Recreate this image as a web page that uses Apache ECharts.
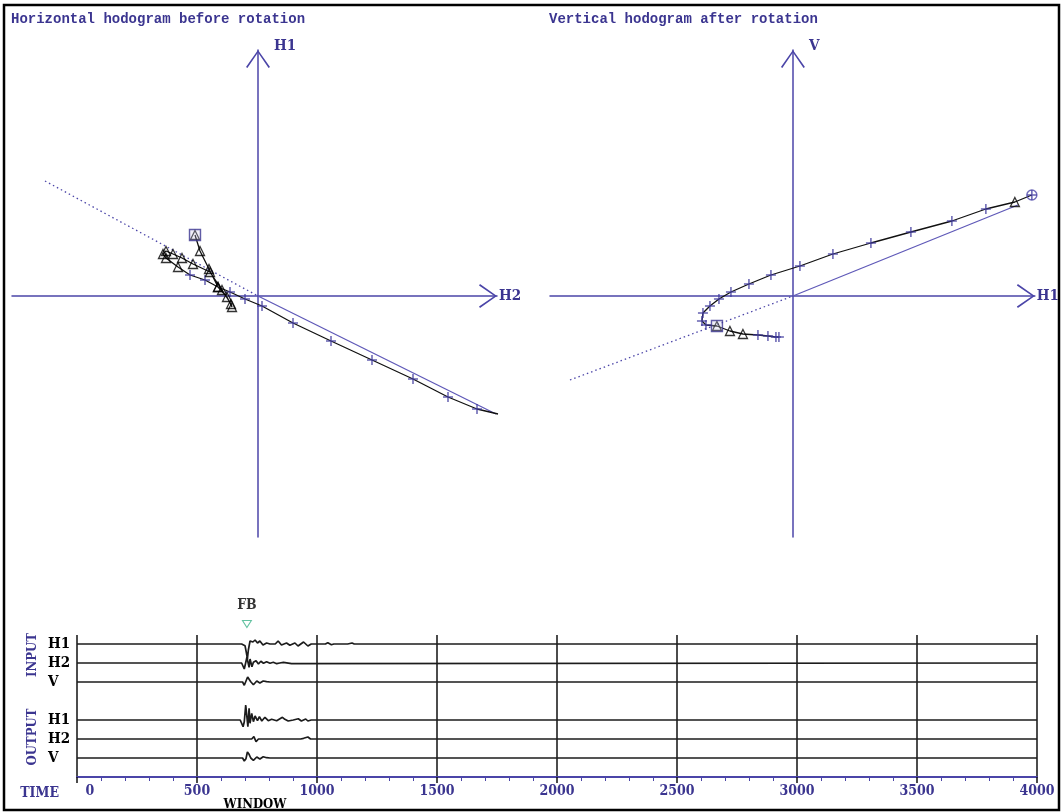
<!DOCTYPE html>
<html>
<head>
<meta charset="utf-8">
<script src="https://cdn.jsdelivr.net/npm/echarts@6/dist/echarts.min.js"></script>
<style>
  html, body { margin: 0; padding: 0; background: #fff; }
  #chart { width: 1062px; height: 812px; }
</style>
</head>
<body>
<div id="chart"></div>
<script>
// ---------------------------------------------------------------
// Hodogram samples, horizontal plane before rotation: [H2, H1, mark]
// mark: s = first sample, t = sample inside window, + = later sample, e = last sample
// ---------------------------------------------------------------
const horizSamples = [
  [-63, 61, 's'], [-58, 45, 't'], [-49, 27, 't'], [-40, 9, 't'], [-31, -1, 't'],
  [-26, -11, 't'], [-27, -8, 't'], [-36, 6, 't'], [-48, 24, 't'], [-65, 32, 't'],
  [-76, 38, 't'], [-85, 42, 't'], [-92, 45, 't'], [-95, 42, 't'], [-92, 38, 't'],
  [-80, 29, 't'], [-68, 21, '+'], [-53, 16, '+'], [-40, 9, 't'], [-28, 4, '+'],
  [-13, -3, '+'], [4, -10, '+'], [35, -27, '+'], [73, -45, '+'], [114, -64, '+'],
  [155, -83, '+'], [190, -101, '+'], [219, -113, '+'], [240, -118, 'e']
];
// Polarization direction in the horizontal plane (back / front of origin)
const horizPolarBack = [[-213, 115], [0, 0]];
const horizPolarFront = [[0, 0], [238, -118]];

// Hodogram samples, vertical plane after rotation: [H1, V, mark]
const vertSamples = [
  [-14, -41, '+'], [-17, -41, '+'], [-25, -40, '+'], [-35, -39, '+'], [-50, -38, 't'],
  [-63, -35, 't'], [-76, -30, 's'], [-87, -29, '+'], [-91, -25, '+'], [-90, -17, '+'],
  [-83, -10, '+'], [-74, -3, '+'], [-62, 4, '+'], [-44, 12, '+'], [-22, 21, '+'],
  [7, 30, '+'], [40, 42, '+'], [78, 53, '+'], [118, 64, '+'], [159, 75, '+'],
  [193, 87, '+'], [222, 94, 't'], [239, 101, 'e']
];
const vertPolarBack = [[-223, -84], [0, 0]];
const vertPolarFront = [[0, 0], [225, 91]];

// ---------------------------------------------------------------
// Three-component traces: [time (ms), amplitude]
// ---------------------------------------------------------------
const traceInH1 = [
  [0, 0], [686, 0], [690, 1.7], [700, -1.7], [706, -9], [710, -15], [714, -6], [721, 3],
  [733, 2], [742, 4], [752, 1], [762, 3], [775, -1], [790, 1], [804, 0], [826, 0],
  [838, 3], [852, -1], [873, 1], [887, -1.3], [908, 1], [921, -2], [944, 2], [952, 3],
  [962, -2], [976, 0], [1035, 0], [1045, 1.3], [1060, -0.7], [1070, 0], [1128, 0],
  [1135, -0.7], [1146, 1], [1155, 0], [4000, 0]
];
const traceInH2 = [
  [0, 0], [686, 0], [690, 0.7], [697, -6], [702, -7.7], [708, 5.7], [713, 7.3], [717, -4.3],
  [721, 4], [729, -3.7], [735, 0.7], [746, 2.3], [756, -1], [766, 1.7], [777, -0.3],
  [790, 1.3], [804, -0.3], [818, 0.7], [832, -0.7], [845, 0], [860, 0.7], [894, -0.7],
  [901, 0], [4000, 0]
];
const traceInV = [
  [0, 0], [690, 0], [697, -3.3], [704, -1.7], [711, 5], [717, 3.7], [724, 0.3], [735, -2.7],
  [749, 1], [762, -1], [776, 1], [790, 0.3], [804, 0], [4000, 0]
];
const traceOutH1 = [
  [0, 0], [680, 0], [685, -0.7], [692, -6.7], [697, -1.7], [703, 15], [708, 16], [712, -6.7],
  [717, 11.7], [721, -3.3], [728, 6.7], [735, -1.7], [742, 4], [752, -0.7], [760, 3.3],
  [770, -1], [783, 2.7], [797, -0.7], [811, 0.7], [832, -0.7], [856, 2.7], [866, 0.7],
  [880, -1], [901, 0], [922, 1.3], [935, -1], [953, 1], [962, -1], [976, 0], [4000, 0]
];
const traceOutH2 = [
  [0, 0], [728, 0], [737, 2.3], [746, -2.7], [756, 0], [830, 0], [838, -1.7], [848, 0],
  [880, 0], [887, -1], [898, 0], [914, 0], [921, 1.3], [932, 0], [944, 0.7], [962, 2],
  [973, 0], [1058, 0], [1065, 1.3], [1073, 0], [1140, 0], [1146, -1.3], [1155, 0], [4000, 0]
];
const traceOutV = [
  [0, 0], [690, 0], [697, -3], [704, -0.7], [710, 6], [717, 3.7], [724, 0], [735, -2.3],
  [749, 1], [762, -1], [776, 1.3], [790, 0.3], [804, 0], [4000, 0]
];

// Trace rows, top to bottom, with their row slot on the amplitude axis
const traceRows = [
  { name: 'H1', slot: 7, samples: traceInH1 },
  { name: 'H2', slot: 6, samples: traceInH2 },
  { name: 'V',  slot: 5, samples: traceInV },
  { name: 'H1', slot: 3, samples: traceOutH1 },
  { name: 'H2', slot: 2, samples: traceOutH2 },
  { name: 'V',  slot: 1, samples: traceOutV }
];
const firstBreakTime = 708;   // FB pick, ms
const timeTicks = [0, 500, 1000, 1500, 2000, 2500, 3000, 3500, 4000];

// ---------------------------------------------------------------
// Styling
// ---------------------------------------------------------------
const AXIS_BLUE = '#4b45a8';
const TEXT_BLUE = '#3b3590';
const MONO = "'Liberation Mono', 'DejaVu Sans Mono', monospace";
const SERIF = "'DejaVu Serif Condensed', 'Liberation Serif', serif";
const ROW = 19;            // amplitude units between trace rows
const TRACE_TOP = 142;     // top of the trace panel in amplitude units

const CHEVRON = 'path://M0,17 L12,0 L24,17 L22.6,18 L12,2.6 L1.4,18 Z';
const PLUS = 'path://M5,0 L5,10 M0,5 L10,5';

function hodogramAxis(gridIndex, min, max, name, isX) {
  const ax = {
    gridIndex, type: 'value', min, max,
    axisLine: {
      show: true, onZero: true,
      symbol: ['none', CHEVRON], symbolSize: [24, 18], symbolOffset: [0, -9],
      lineStyle: { color: AXIS_BLUE, width: 1.5 }
    },
    axisTick: { show: false }, axisLabel: { show: false }, splitLine: { show: false },
    name, nameLocation: 'end',
    nameTextStyle: { color: TEXT_BLUE, fontFamily: SERIF, fontWeight: 'bold', fontSize: 15 }
  };
  if (isX) {
    ax.nameGap = 2;
    ax.nameTextStyle.padding = [12, 0, 0, 0];
  } else {
    ax.nameGap = -4;
    ax.nameTextStyle.align = 'left';
    ax.nameTextStyle.padding = [0, 0, 0, 16];
  }
  return ax;
}

function hodogramSeries(samples, polarBack, polarFront, axisIndex) {
  const pick = kinds => samples.filter(s => kinds.includes(s[2])).map(s => [s[0], s[1]]);
  const base = { xAxisIndex: axisIndex, yAxisIndex: axisIndex, silent: true };
  return [
    Object.assign({}, base, {
      type: 'line', data: polarBack, showSymbol: false, z: 2,
      lineStyle: { color: AXIS_BLUE, width: 1.3, type: [1.5, 3] }
    }),
    Object.assign({}, base, {
      type: 'line', data: polarFront, showSymbol: false, z: 2,
      lineStyle: { color: '#5f59b8', width: 1.3 }
    }),
    Object.assign({}, base, {
      type: 'line', data: samples.map(s => [s[0], s[1]]), showSymbol: false, z: 3,
      lineStyle: { color: '#111', width: 1.3 }
    }),
    Object.assign({}, base, {
      type: 'scatter', data: pick(['+', 'e']), symbol: PLUS, symbolSize: 10, z: 4,
      itemStyle: { color: 'transparent', borderColor: '#3f3a9e', borderWidth: 1.5 }
    }),
    Object.assign({}, base, {
      type: 'scatter', data: pick(['t', 's']), symbol: 'triangle', symbolSize: [9, 9], z: 5,
      itemStyle: { color: 'rgba(255,255,255,0)', borderColor: '#000', borderWidth: 1.3 }
    }),
    Object.assign({}, base, {
      type: 'scatter', data: pick(['s']), symbol: 'rect', symbolSize: 11, z: 5,
      itemStyle: { color: 'rgba(200,200,230,0.35)', borderColor: TEXT_BLUE, borderWidth: 1.4 }
    }),
    Object.assign({}, base, {
      type: 'scatter', data: pick(['e']), symbol: 'circle', symbolSize: 10, z: 5,
      itemStyle: { color: 'transparent', borderColor: AXIS_BLUE, borderWidth: 1.4 }
    })
  ];
}

const rowNameBySlot = {};
traceRows.forEach(r => { rowNameBySlot[r.slot] = r.name; });

const traceSeries = traceRows.map(r => ({
  type: 'line', xAxisIndex: 2, yAxisIndex: 2, silent: true,
  data: r.samples.map(s => [s[0], r.slot * ROW + s[1]]),
  showSymbol: false, z: 3,
  lineStyle: { color: '#1c1c1c', width: 1.7 }
}));

const fbSeries = {
  type: 'scatter', xAxisIndex: 2, yAxisIndex: 2, silent: true, clip: false,
  data: [[firstBreakTime, TRACE_TOP + 11]],
  symbol: 'triangle', symbolRotate: 180, symbolSize: [9, 7],
  itemStyle: { color: '#fff', borderColor: '#3cb38a', borderWidth: 1 },
  label: {
    show: true, position: 'top', distance: 8, formatter: 'FB',
    color: '#000', fontFamily: SERIF, fontWeight: 'bold', fontSize: 14
  }
};

const titleStyle = { color: TEXT_BLUE, fontFamily: MONO, fontWeight: 'bold', fontSize: 14 };

const option = {
  animation: false,
  backgroundColor: '#fff',
  title: [
    { text: 'Horizontal hodogram before rotation', left: 11, top: 12, padding: 0, textStyle: titleStyle },
    { text: 'Vertical hodogram after rotation', left: 549, top: 12, padding: 0, textStyle: titleStyle }
  ],
  grid: [
    { left: 12, top: 50, width: 485, height: 487 },
    { left: 550, top: 50, width: 485, height: 487 },
    { left: 77, top: 635, width: 960, height: 142 }
  ],
  xAxis: [
    hodogramAxis(0, -246, 239, 'H2', true),
    hodogramAxis(1, -243, 242, 'H1', true),
    {
      gridIndex: 2, type: 'value', min: 0, max: 4000, interval: 500,
      axisLine: { show: true, onZero: false, lineStyle: { color: AXIS_BLUE, width: 2 } },
      axisTick: { show: true, length: 6, lineStyle: { color: '#111', width: 1.5 } },
      minorTick: { show: true, splitNumber: 5, length: 4, lineStyle: { color: AXIS_BLUE, width: 1 } },
      splitLine: { show: true, lineStyle: { color: '#111', width: 1.5 } },
      axisLabel: {
        margin: 7, color: TEXT_BLUE, fontFamily: SERIF, fontWeight: 'bold', fontSize: 14,
        formatter: v => (timeTicks.includes(v) ? (v === 0 ? '{z|0}' : String(v)) : ''),
        rich: { z: { padding: [0, 0, 0, 26], color: TEXT_BLUE, fontFamily: SERIF, fontWeight: 'bold', fontSize: 14 } }
      },
      name: 'TIME', nameLocation: 'start', nameGap: 18,
      nameTextStyle: {
        color: TEXT_BLUE, fontFamily: SERIF, fontWeight: 'bold', fontSize: 14,
        verticalAlign: 'top', lineHeight: 32
      }
    }
  ],
  yAxis: [
    hodogramAxis(0, -241, 246, 'H1', false),
    hodogramAxis(1, -241, 246, 'V', false),
    {
      gridIndex: 2, type: 'value', min: 0, max: TRACE_TOP, interval: ROW,
      axisLine: { show: false }, axisTick: { show: false }, splitLine: { show: false },
      axisLabel: {
        show: true, align: 'left', margin: 29, color: '#000',
        fontFamily: SERIF, fontWeight: 'bold', fontSize: 15,
        formatter: v => (v % ROW === 0 && rowNameBySlot[v / ROW]) || ''
      }
    }
  ],
  series: [
    ...hodogramSeries(horizSamples, horizPolarBack, horizPolarFront, 0),
    ...hodogramSeries(vertSamples, vertPolarBack, vertPolarFront, 1),
    ...traceSeries,
    fbSeries
  ],
  graphic: [
    {
      type: 'rect', silent: true, z: 100,
      shape: { x: 4, y: 5, width: 1055, height: 805 },
      style: { fill: 'none', stroke: '#000', lineWidth: 2.5 }
    },
    {
      type: 'text', silent: true, x: 33, y: 655, rotation: Math.PI / 2,
      style: { text: 'INPUT', fill: TEXT_BLUE, font: "bold 13px 'DejaVu Serif Condensed', 'Liberation Serif', serif", align: 'center', verticalAlign: 'middle' }
    },
    {
      type: 'text', silent: true, x: 33, y: 737, rotation: Math.PI / 2,
      style: { text: 'OUTPUT', fill: TEXT_BLUE, font: "bold 13px 'DejaVu Serif Condensed', 'Liberation Serif', serif", align: 'center', verticalAlign: 'middle' }
    },
    {
      type: 'text', silent: true, x: 255, y: 805,
      style: { text: 'WINDOW', fill: '#000', font: "bold 13px 'DejaVu Serif Condensed', 'Liberation Serif', serif", align: 'center', verticalAlign: 'middle' }
    }
  ]
};

const chart = echarts.init(document.getElementById('chart'), null, { renderer: 'canvas' });
chart.setOption(option);
</script>
</body>
</html>
